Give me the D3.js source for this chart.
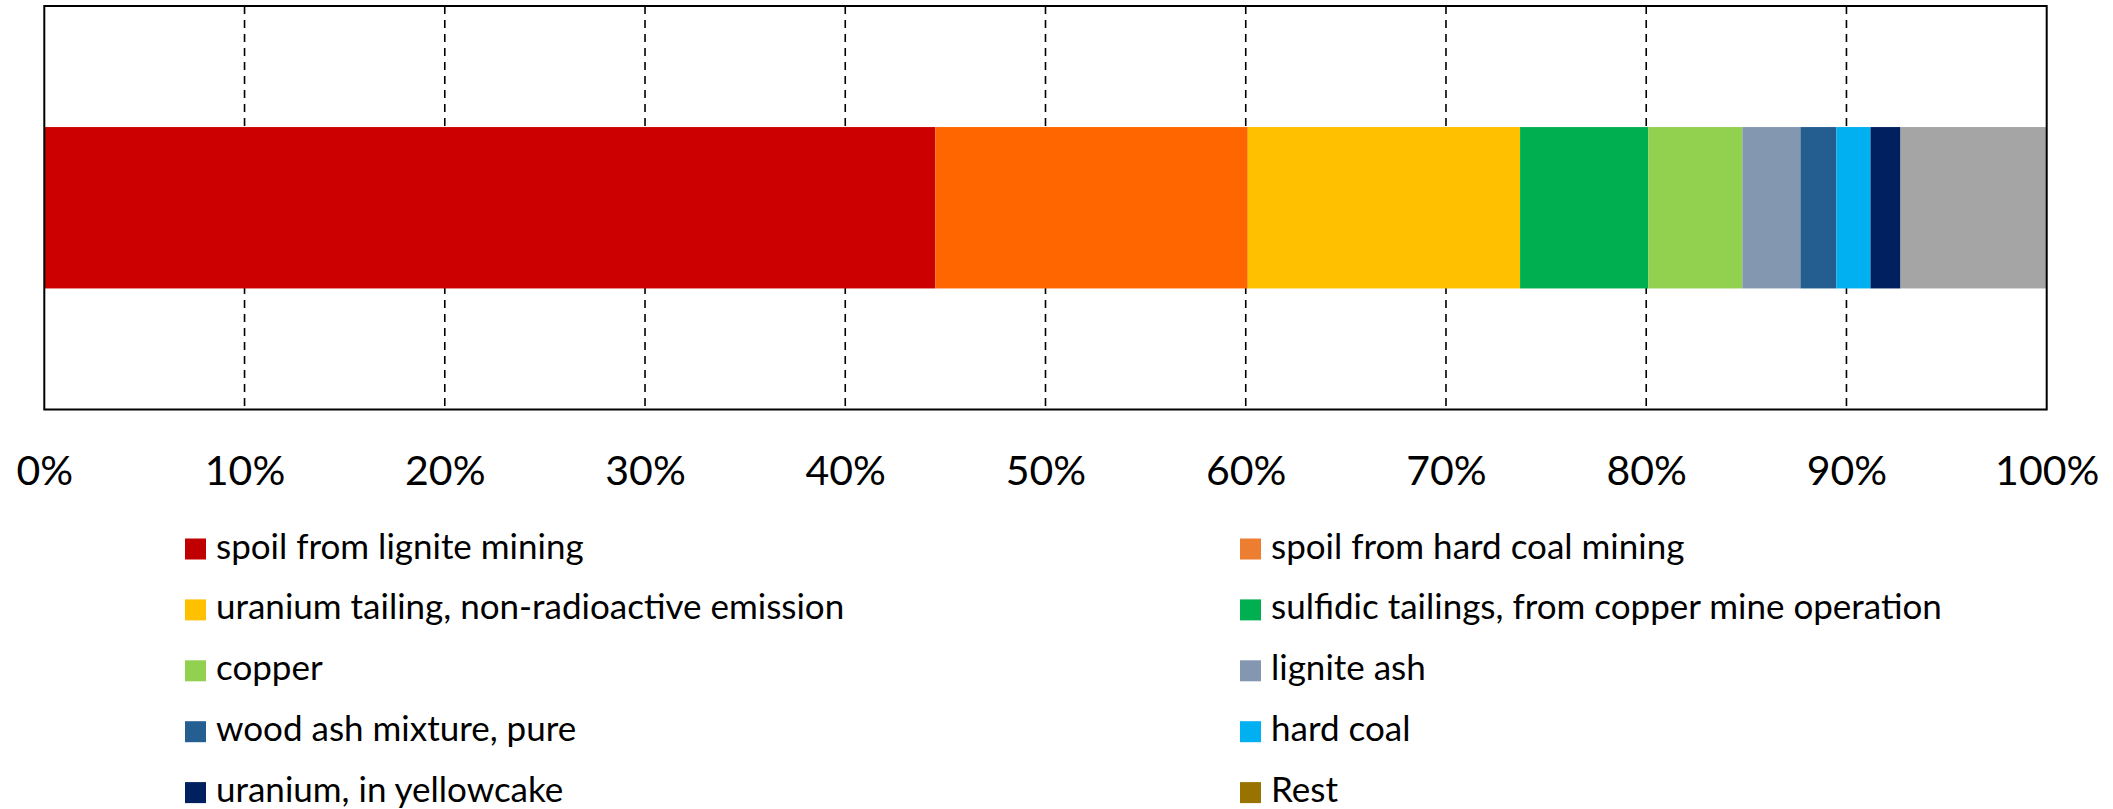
<!DOCTYPE html>
<html>
<head>
<meta charset="utf-8">
<script src="https://cdn.jsdelivr.net/npm/d3@7"></script>
<style>
  html, body { margin: 0; padding: 0; background: #fff; }
  svg { display: block; }
  text { font-family: Lato, "Open Sans", sans-serif; fill: #000; }
</style>
</head>
<body>
<svg id="chart" width="2113" height="809"></svg>
<script>
// Share of each waste category (percent of total), stacked in one bar
const categories = [
  "spoil from lignite mining",
  "spoil from hard coal mining",
  "uranium tailing, non-radioactive emission",
  "sulfidic tailings, from copper mine operation",
  "copper",
  "lignite ash",
  "wood ash mixture, pure",
  "hard coal",
  "uranium, in yellowcake",
  "Rest"
];
const shares = [44.5, 15.6, 13.6, 6.4, 4.7, 2.9, 1.8, 1.7, 1.5, 7.3];
const barColors = ["#CC0000", "#FF6600", "#FFC000", "#00B050", "#92D050",
                   "#8497B0", "#245E90", "#00B0F0", "#002060", "#A5A5A5"];
const legendColors = ["#C00000", "#ED7D31", "#FFC000", "#00B050", "#92D050",
                      "#8497B0", "#255E91", "#00B0F0", "#002060", "#997300"];
const tickValues = [0, 10, 20, 30, 40, 50, 60, 70, 80, 90, 100];

const svg = d3.select("#chart");
const plot = { left: 44.3, right: 2046.7, top: 6, bottom: 409.5 };

const x = d3.scaleLinear().domain([0, 100]).range([plot.left, plot.right]);
const y = d3.scaleBand().domain(["total"]).range([plot.top, plot.bottom])
  .paddingInner(0.4286).paddingOuter(0.4286);

// dashed vertical gridlines
svg.append("g").selectAll("line")
  .data(tickValues.filter(t => t > 0 && t < 100))
  .join("line")
  .attr("x1", d => x(d)).attr("x2", d => x(d))
  .attr("y1", plot.top).attr("y2", plot.bottom)
  .attr("stroke", "#000").attr("stroke-width", 1.6)
  .attr("stroke-dasharray", "8,6");

// stacked segments
let acc = 0;
const segs = shares.map((v, i) => {
  const s = { start: acc, end: acc + v, color: barColors[i] };
  acc += v;
  return s;
});
svg.append("g").selectAll("rect")
  .data(segs)
  .join("rect")
  .attr("x", d => x(d.start))
  .attr("width", d => x(d.end) - x(d.start))
  .attr("y", y("total"))
  .attr("height", y.bandwidth())
  .attr("fill", d => d.color);

// plot frame
svg.append("rect")
  .attr("x", plot.left).attr("y", plot.top)
  .attr("width", plot.right - plot.left).attr("height", plot.bottom - plot.top)
  .attr("fill", "none").attr("stroke", "#000").attr("stroke-width", 2);

// percentage axis
const axis = d3.axisBottom(x).tickValues(tickValues)
  .tickFormat(d => d + "%").tickSize(0);
const ag = svg.append("g").attr("transform", `translate(0,${plot.bottom})`).call(axis);
ag.select(".domain").remove();
ag.selectAll("text")
  .attr("y", 75.5).attr("dy", 0)
  .style("font-family", "Lato, 'Open Sans', sans-serif")
  .style("font-size", "41px")
  .attr("fill", "#000");

// legend in two columns
const colX = [185, 1240];
const rowY = 538.5, rowStep = 60.9, sq = 21;
const lg = svg.append("g").selectAll("g")
  .data(categories)
  .join("g")
  .attr("transform", (d, i) => `translate(${colX[i % 2]},${rowY + Math.floor(i / 2) * rowStep})`);
lg.append("rect")
  .attr("width", sq).attr("height", sq)
  .attr("fill", (d, i) => legendColors[i]);
lg.append("text")
  .attr("x", 31).attr("y", 20)
  .style("font-size", "35px")
  .text(d => d);
</script>
</body>
</html>
